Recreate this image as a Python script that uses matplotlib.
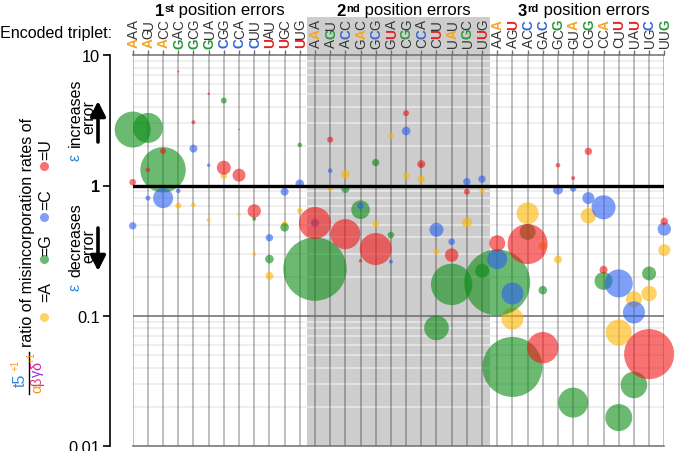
import matplotlib
matplotlib.use('Agg')
import matplotlib.pyplot as plt
import matplotlib.transforms as mtransforms
from matplotlib.lines import Line2D
from matplotlib.patches import FancyArrowPatch
from matplotlib.ticker import NullLocator, FixedLocator

plt.rcParams['font.family'] = ['Liberation Sans', 'DejaVu Sans']

# ---------------- data ----------------
codons = ['AAA', 'AGU', 'ACC', 'GAC', 'GCG', 'GUA', 'CGG', 'CCA', 'CUU', 'UAU', 'UGC', 'UUG']
group_nums = ['1', '2', '3']
group_sups = ['st', 'nd', 'rd']
group_text = ' position errors'
ytick_vals = [0.01, 0.1, 1, 10]
ytick_labels = ['0.01', '0.1', '1', '10']

# column index (0-35), ratio value, bubble size (relative radius)
col_A = [3, 4, 5, 6, 7, 8, 9, 10, 11, 13, 14, 16, 17, 18, 19, 20, 22, 23, 25, 26, 27, 28, 30, 32, 33, 34, 35]
val_A = [0.70, 0.71, 0.545, 1.19, 0.60, 0.297, 0.202, 0.506, 0.64, 0.95, 1.22, 0.508, 2.40, 1.19, 1.12, 0.31,
         0.52, 0.91, 0.095, 0.611, 0.344, 0.27, 0.585, 0.0743, 0.134, 0.148, 0.319]
size_A = [3, 2.3, 2, 3.3, 1.7, 2, 4, 3, 2.7, 2.7, 4.3, 3.3, 2.7, 3.3, 3.7, 3, 5, 2.7, 11, 11, 4, 4, 7.7, 13, 8,
          7.7, 6]

col_G = [0, 1, 2, 6, 7, 8, 9, 10, 11, 12, 14, 15, 16, 17, 19, 20, 21, 23, 24, 25, 26, 27, 29, 31, 32, 33, 34]
val_G = [2.69, 2.77, 1.32, 4.49, 2.69, 0.555, 0.272, 0.477, 2.05, 0.228, 0.94, 0.652, 1.50, 0.416, 1.44, 0.0806,
         0.174, 0.221, 0.18, 0.0404, 0.44, 0.157, 0.0215, 0.185, 0.0165, 0.0294, 0.211]
size_G = [18, 15, 22.7, 3, 0.8, 2, 4.3, 4.3, 2.3, 31.7, 4, 9.3, 3.7, 3.3, 1.7, 12.3, 20.7, 7, 33, 30, 8, 4.3, 15,
          9, 13.5, 13.3, 7]

col_C = [0, 1, 2, 3, 4, 5, 9, 10, 11, 12, 13, 15, 17, 18, 20, 21, 22, 23, 24, 25, 28, 29, 30, 31, 32, 33, 35]
val_C = [0.49, 0.80, 0.80, 0.91, 1.92, 1.43, 0.397, 0.896, 1.03, 0.515, 1.30, 0.70, 0.26, 2.62, 0.457, 0.37, 1.07,
         1.12, 0.272, 0.148, 0.93, 0.95, 0.80, 0.68, 0.177, 0.106, 0.463]
size_C = [3.7, 2.5, 10, 2.3, 4, 1.7, 3.7, 4, 4.3, 4, 2.3, 3.3, 2, 4.3, 7, 3.3, 3.7, 3.7, 10, 11, 5, 3.3, 6, 12, 14,
          11, 6.7]

col_U = [0, 1, 2, 3, 4, 5, 6, 7, 8, 12, 13, 14, 15, 16, 18, 19, 21, 22, 24, 26, 27, 28, 29, 30, 31, 34, 35]
val_U = [1.06, 1.32, 1.84, 7.5, 3.06, 5.06, 1.37, 1.20, 0.637, 0.515, 2.25, 0.423, 0.264, 0.325, 3.59, 1.46, 0.292,
         0.896, 0.36, 0.355, 0.0568, 1.43, 1.14, 1.83, 0.225, 0.0507, 0.53]
size_U = [3.3, 2.3, 3, 1, 2, 1.2, 7, 6.5, 6.7, 16, 3, 15, 1.7, 16, 3, 4, 6.7, 3, 8, 20, 15.7, 2.3, 2, 3.7, 4, 25,
          3.7]

# ---------------- style ----------------
base_colors = {'A': '#ffb400', 'G': '#0a8c14', 'C': '#2a5ff2', 'U': '#f21414'}
label_colors = {'A': '#f5a623', 'G': '#2a9a3a', 'C': '#3468d8', 'U': '#e82020'}
BUB_ALPHA = 0.6
W, H = 675, 452

fig = plt.figure(figsize=(W / 100, H / 100), dpi=100)
ax_left_px, ax_right_px, ax_top_px, ax_bot_px = 132.7, 664.3, 56.3, 446.9
ax = fig.add_axes([ax_left_px / W, 1 - ax_bot_px / H, (ax_right_px - ax_left_px) / W,
                   (ax_bot_px - ax_top_px) / H])
ax.set_yscale('log')
ax.set_xlim(0, 35)
ax.set_ylim(0.01, 10)
ax.patch.set_alpha(0)


def P(x, y):
    """figure pixel (from top-left) to figure fraction"""
    return x / W, 1 - y / H


def rtext(xb, y, s, ha='center', **kw):
    """rotated (90 deg) text; xb = baseline x in pixels, y = pixel position along text"""
    return fig.text(*P(xb, y), s, rotation=90, rotation_mode='anchor', ha=ha, va='baseline', **kw)


# grey band for 2nd position, extends up behind labels
span = ax.axvspan(11.5, 23.5, ymin=0, ymax=1 + (ax_top_px - 18) / (ax_bot_px - ax_top_px),
                  color='#cdcdcd', zorder=0, lw=0)
span.set_clip_on(False)

# minor horizontal grid lines
for dec in [0.01, 0.1, 1]:
    for m in range(2, 10):
        ax.axhline(m * dec, color='#ebebeb', lw=1.1, zorder=1)

# vertical column lines
for i in range(36):
    ax.axvline(i, color='black', alpha=0.32, lw=1.1, zorder=2)

ax.axhline(0.1, color='#6a6a6a', lw=1.1, zorder=2.5)
ax.axhline(1, color='black', lw=2.4, zorder=6)

# bubbles
for base, cols, vals, sizes, z in [('A', col_A, val_A, size_A, 3),
                                   ('G', col_G, val_G, size_G, 3.1),
                                   ('C', col_C, val_C, size_C, 3.2),
                                   ('U', col_U, val_U, size_U, 3.3)]:
    s = [(2 * r * 0.72) ** 2 for r in sizes]
    ax.scatter(cols, vals, s=s, color=base_colors[base], alpha=BUB_ALPHA, linewidths=0,
               zorder=z, clip_on=False)

# spines and ticks
ax.spines['right'].set_visible(False)
ax.spines['left'].set_position(('outward', 16.3))
ax.spines['left'].set_linewidth(1.2)
for sp in ['top', 'bottom']:
    ax.spines[sp].set_color('#6e6e6e')
    ax.spines[sp].set_linewidth(1.1)

ax.yaxis.set_major_locator(FixedLocator(ytick_vals))
ax.yaxis.set_minor_locator(NullLocator())
ax.set_yticklabels(ytick_labels, fontsize=11.8)
ax.tick_params(axis='y', length=5, width=1.2, pad=2)
for lab in ax.get_yticklabels():
    if lab.get_text() == '1':
        lab.set_fontweight('bold')

ax.xaxis.tick_top()
ax.set_xticks(range(36))
ax.set_xticklabels([''] * 36)
ax.tick_params(axis='x', length=3.5, width=1.0, color='#6e6e6e', top=True, bottom=False)

# codon labels (rotated, one letter at a time)
CODON_FS = 9.8
trans = mtransforms.blended_transform_factory(ax.transData, fig.transFigure)
shift = mtransforms.ScaledTranslation(0.716 * CODON_FS / 2 / 72, 0, fig.dpi_scale_trans)
letter_y = [43.3, 34.1, 24.9]
for g in range(3):
    for j, cod in enumerate(codons):
        col = 12 * g + j
        for k, letter in enumerate(cod):
            colored = (k == g)
            ax.text(col, 1 - letter_y[k] / H, letter, transform=trans + shift, rotation=90,
                    rotation_mode='anchor', ha='center', va='baseline', fontsize=CODON_FS,
                    color=label_colors[letter] if colored else '#333333',
                    fontweight='bold' if colored else 'normal', clip_on=False)

# group titles (chained text pieces)
title_left = [155, 336.5, 518]
for g in range(3):
    t1 = fig.text(*P(title_left[g], 15.5), group_nums[g], ha='left', va='baseline', fontsize=12,
                  fontweight='bold')
    t2 = ax.annotate(group_sups[g], xy=(1.02, 1.0), xycoords=t1, ha='left', va='top', fontsize=8,
                     fontweight='bold', annotation_clip=False)
    ax.annotate(group_text, xy=(1, 0), xycoords=t2, ha='left', va='bottom', fontsize=12,
                annotation_clip=False, xytext=(0, -3.6), textcoords='offset points')

fig.text(*P(0, 33.3), 'Encoded triplet:', ha='left', va='center', fontsize=11.6)

# ---------- left annotations ----------
LBL = 11.5
EPS = '#2f8be0'
rtext(80, 157, 'ε', color=EPS, fontsize=LBL)
rtext(80, 112.5, 'increases', fontsize=LBL)
rtext(93.5, 117.5, 'error', fontsize=LBL)
rtext(80, 287, 'ε', color=EPS, fontsize=LBL)
rtext(80, 240, 'decreases', fontsize=LBL)
rtext(93.5, 246.5, 'error', fontsize=LBL)
arrow_kw = dict(arrowstyle='-|>,head_length=0.75,head_width=0.38', lw=2.6, color='black',
                shrinkA=0, shrinkB=0, mutation_scale=12)
fig.add_artist(FancyArrowPatch(P(98, 143), P(98, 102), transform=fig.transFigure, **arrow_kw))
fig.add_artist(FancyArrowPatch(P(98, 229), P(98, 272), transform=fig.transFigure, **arrow_kw))

# ratio label
rtext(32, 347, 'ratio of misincorporation rates of', ha='left', fontsize=11.5)
# legend dots line
dot_y = {'A': 318, 'G': 260, 'C': 218, 'U': 167}
txt_y = {'A': 292.5, 'G': 245, 'C': 200, 'U': 150}
for b in ['A', 'G', 'C', 'U']:
    fig.add_artist(Line2D([44 / W], [1 - dot_y[b] / H], marker='o', markersize=6.5, color=base_colors[b],
                          alpha=BUB_ALPHA, markeredgewidth=0, transform=fig.transFigure, linestyle='none'))
    rtext(50, txt_y[b], '=' + b, fontsize=11.5)

# fraction
rtext(25, 380, 't5', color=EPS, fontsize=11.5)
rtext(18.5, 365, '+1', color='#f5a020', fontsize=7)
fig.add_artist(Line2D([28.5 / W, 28.5 / W], [1 - 353 / H, 1 - 395 / H], color='black', lw=1.0,
                      transform=fig.transFigure))
greek = ['α', 'β', 'γ', 'δ']
greek_col = ['#f7931e', '#e8336d', '#9b30d9', '#d81b9b']
greek_y = [389, 381, 373, 366]
for ch, c, yy in zip(greek, greek_col, greek_y):
    rtext(41, yy, ch, color=c, fontsize=10.5)
rtext(35, 357, '+1', color='#f5a020', fontsize=7)

fig.savefig('out.png', dpi=100)
